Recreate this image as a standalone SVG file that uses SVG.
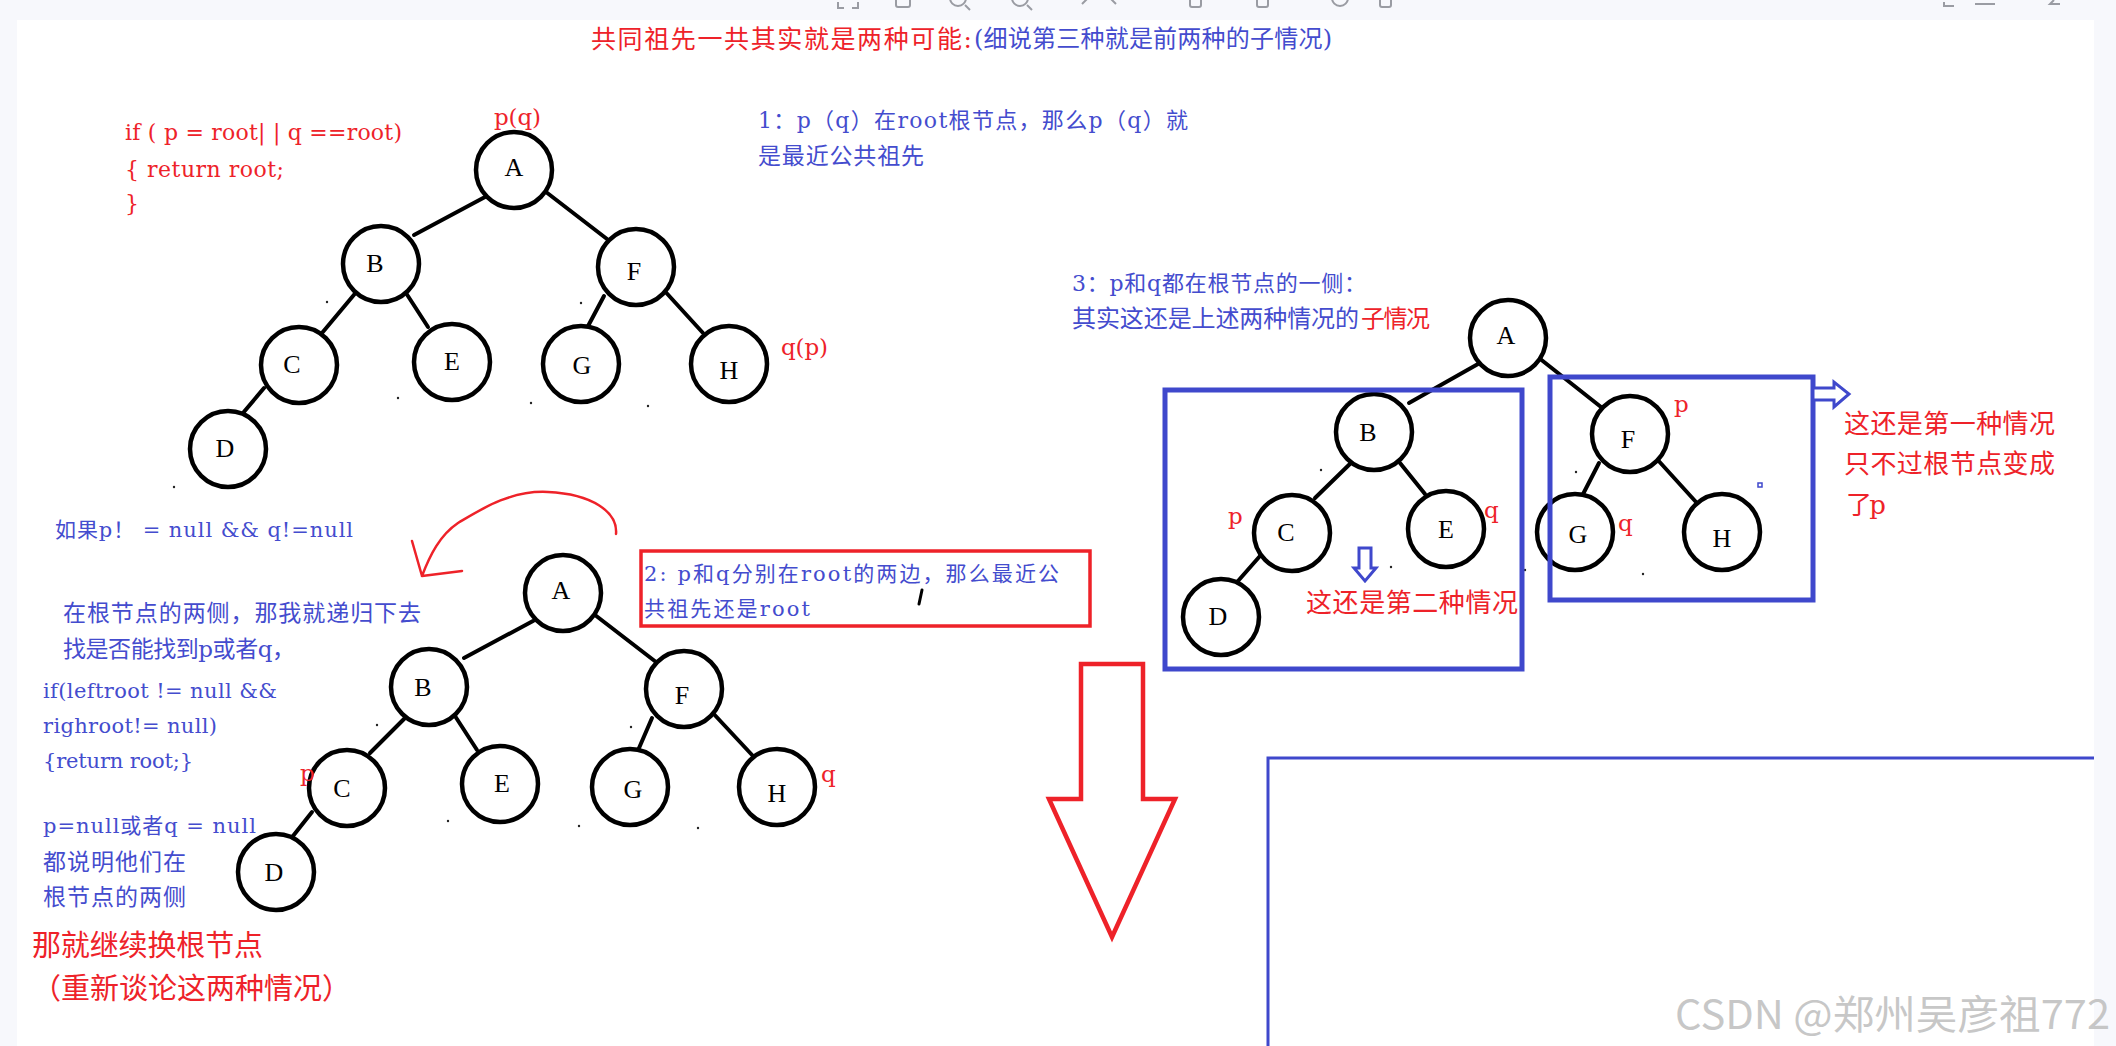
<svg xmlns="http://www.w3.org/2000/svg" width="2116" height="1046" viewBox="0 0 2116 1046">
<defs>
<style>
.node{fill:#fff;stroke:#000;stroke-width:4.5}
.lbl{font-family:'Liberation Serif','Noto Sans CJK SC',serif;font-size:26px;fill:#000;text-anchor:middle;dominant-baseline:central}
.edge{stroke:#000;stroke-width:4;stroke-linecap:round;fill:none}
.t{font-family:'DejaVu Serif','Noto Sans CJK SC',serif;dominant-baseline:central}
.red{fill:#ee2229}
.blue{fill:#444cce}
.bbox{fill:none;stroke:#3f48cc;stroke-width:5}
.dot{fill:#222}
</style>
</defs>
<rect x="0" y="0" width="2116" height="1046" fill="#f7f8fc"/>
<rect x="17" y="20" width="2077" height="1026" fill="#ffffff"/>
<!-- toolbar remnants -->
<g fill="none" stroke="#9a9ca3" stroke-width="2">
<path d="M838,2 v6 h6 M858,2 v6 h-6"/>
<rect x="896" y="-4" width="14" height="11" rx="2"/>
<circle cx="958" cy="-2" r="8"/>
<path d="M965,5 l5,5"/>
<circle cx="1020" cy="-2" r="8"/>
<path d="M1027,5 l5,5"/>
<path d="M1088,-2 l-6,6 M1110,-2 l6,6"/>
<rect x="1190" y="-4" width="11" height="11" rx="2"/>
<rect x="1257" y="-4" width="11" height="11" rx="2"/>
<path d="M1332,-2 a8,8 0 0 0 16,0"/>
<rect x="1380" y="-4" width="11" height="11" rx="2"/>
<path d="M1944,2 v4 h10 M1975,4 h20 M2060,4 h-10 l4,-4"/>
</g>

<!-- connectors -->
<g id="connectors">
<!-- tree 1 -->
<line class="edge" x1="485" y1="197" x2="414" y2="235"/>
<line class="edge" x1="546" y1="192" x2="607" y2="239"/>
<line class="edge" x1="358" y1="290" x2="322" y2="333"/>
<line class="edge" x1="406" y1="293" x2="428" y2="327"/>
<line class="edge" x1="604" y1="296" x2="587" y2="328"/>
<line class="edge" x1="661" y1="287" x2="703" y2="333"/>
<line class="edge" x1="264" y1="388" x2="243" y2="413"/>
<!-- tree 2 -->
<line class="edge" x1="533" y1="621" x2="464" y2="658"/>
<line class="edge" x1="595" y1="615" x2="656" y2="662"/>
<line class="edge" x1="409" y1="714" x2="370" y2="753"/>
<line class="edge" x1="455" y1="716" x2="477" y2="750"/>
<line class="edge" x1="652" y1="718" x2="636" y2="755"/>
<line class="edge" x1="711" y1="711" x2="753" y2="756"/>
<line class="edge" x1="312" y1="812" x2="293" y2="836"/>
<line class="edge" x1="302" y1="876" x2="314" y2="876" style="stroke-width:2"/>
<!-- tree 3 -->
<line class="edge" x1="1478" y1="364" x2="1409" y2="403"/>
<line class="edge" x1="1539" y1="358" x2="1601" y2="407"/>
<line class="edge" x1="1354" y1="460" x2="1315" y2="498"/>
<line class="edge" x1="1400" y1="463" x2="1425" y2="494"/>
<line class="edge" x1="1599" y1="463" x2="1580" y2="500"/>
<line class="edge" x1="1656" y1="458" x2="1696" y2="502"/>
<line class="edge" x1="1260" y1="556" x2="1238" y2="581"/>
</g>

<!-- stray dots -->
<g id="dots">
<circle class="dot" cx="327" cy="302" r="1.2"/>
<circle class="dot" cx="398" cy="398" r="1.2"/>
<circle class="dot" cx="531" cy="403" r="1.2"/>
<circle class="dot" cx="648" cy="406" r="1.2"/>
<circle class="dot" cx="581" cy="303" r="1.2"/>
<circle class="dot" cx="174" cy="487" r="1.2"/>
<circle class="dot" cx="377" cy="725" r="1.2"/>
<circle class="dot" cx="448" cy="821" r="1.2"/>
<circle class="dot" cx="579" cy="826" r="1.2"/>
<circle class="dot" cx="698" cy="828" r="1.2"/>
<circle class="dot" cx="631" cy="727" r="1.2"/>
<circle class="dot" cx="1321" cy="470" r="1.2"/>
<circle class="dot" cx="1576" cy="472" r="1.2"/>
<circle class="dot" cx="1391" cy="567" r="1.2"/>
<circle class="dot" cx="1525" cy="570" r="1.2"/>
<circle class="dot" cx="1643" cy="574" r="1.2"/>
</g>

<!-- tree 1 nodes -->
<g id="t1-A"><circle class="node" cx="514" cy="170" r="38"/><text class="lbl" x="514" y="167">A</text></g>
<g id="t1-B"><circle class="node" cx="381" cy="264" r="38"/><text class="lbl" x="375" y="263">B</text></g>
<g id="t1-F"><circle class="node" cx="636" cy="267" r="38"/><text class="lbl" x="634" y="271">F</text></g>
<g id="t1-C"><circle class="node" cx="299" cy="365" r="38"/><text class="lbl" x="292" y="364">C</text></g>
<g id="t1-E"><circle class="node" cx="452" cy="362" r="38"/><text class="lbl" x="452" y="361">E</text></g>
<g id="t1-G"><circle class="node" cx="581" cy="364" r="38"/><text class="lbl" x="582" y="365">G</text></g>
<g id="t1-H"><circle class="node" cx="729" cy="364" r="38"/><text class="lbl" x="729" y="370">H</text></g>
<g id="t1-D"><circle class="node" cx="228" cy="449" r="38"/><text class="lbl" x="225" y="448">D</text></g>

<!-- tree 2 nodes -->
<g id="t2-A"><circle class="node" cx="563" cy="593" r="38"/><text class="lbl" x="561" y="590">A</text></g>
<g id="t2-B"><circle class="node" cx="429" cy="687" r="38"/><text class="lbl" x="423" y="687">B</text></g>
<g id="t2-F"><circle class="node" cx="684" cy="689" r="38"/><text class="lbl" x="682" y="695">F</text></g>
<g id="t2-C"><circle class="node" cx="347" cy="788" r="38"/><text class="lbl" x="342" y="788">C</text></g>
<g id="t2-E"><circle class="node" cx="500" cy="784" r="38"/><text class="lbl" x="502" y="783">E</text></g>
<g id="t2-G"><circle class="node" cx="630" cy="787" r="38"/><text class="lbl" x="633" y="789">G</text></g>
<g id="t2-H"><circle class="node" cx="777" cy="787" r="38"/><text class="lbl" x="777" y="793">H</text></g>
<g id="t2-D"><circle class="node" cx="276" cy="872" r="38"/><text class="lbl" x="274" y="872">D</text></g>

<!-- tree 3 nodes -->
<g id="t3-A"><circle class="node" cx="1508" cy="338" r="38"/><text class="lbl" x="1506" y="335">A</text></g>
<g id="t3-B"><circle class="node" cx="1374" cy="432" r="38"/><text class="lbl" x="1368" y="432">B</text></g>
<g id="t3-F"><circle class="node" cx="1630" cy="434" r="38"/><text class="lbl" x="1628" y="439">F</text></g>
<g id="t3-C"><circle class="node" cx="1292" cy="533" r="38"/><text class="lbl" x="1286" y="532">C</text></g>
<g id="t3-E"><circle class="node" cx="1446" cy="529" r="38"/><text class="lbl" x="1446" y="529">E</text></g>
<g id="t3-G"><circle class="node" cx="1575" cy="532" r="38"/><text class="lbl" x="1578" y="534">G</text></g>
<g id="t3-H"><circle class="node" cx="1722" cy="532" r="38"/><text class="lbl" x="1722" y="538">H</text></g>
<g id="t3-D"><circle class="node" cx="1221" cy="617" r="38"/><text class="lbl" x="1218" y="616">D</text></g>

<!-- boxes and arrows -->
<g id="boxes">
<rect x="641" y="551" width="449" height="75" fill="none" stroke="#ee2229" stroke-width="3.5"/>
<rect class="bbox" x="1165" y="390" width="357" height="279"/>
<rect class="bbox" x="1550" y="377" width="263" height="223"/>
<polygon points="1813,388 1834,388 1834,382 1849,394 1834,407 1834,400 1813,400" fill="#fff" stroke="#3f48cc" stroke-width="3"/>
<polygon points="1359,548 1371,548 1371,568 1376,568 1365,581 1354,568 1359,568" fill="#fff" stroke="#3f48cc" stroke-width="3"/>
<rect x="1758" y="483" width="4" height="4" fill="none" stroke="#3f48cc" stroke-width="1.5"/>
<polygon points="1081,664 1143,664 1143,799 1175,799 1112,937 1049,799 1081,799" fill="none" stroke="#ee2229" stroke-width="4.5"/>
<path d="M1268,1046 V758 H2094" fill="none" stroke="#3f48cc" stroke-width="3"/>
<path d="M616,534 C618,512 592,494 548,492 C510,490 480,510 458,523 C440,535 430,555 422,576 M412,541 L422,576 L462,571" fill="none" stroke="#ee2229" stroke-width="2.5" stroke-linecap="round" stroke-linejoin="round"/>
<path d="M922,590 L919,604" stroke="#000" stroke-width="3" stroke-linecap="round"/>
</g>

<!-- texts -->
<g id="texts">
<text class="t red" x="591" y="39" font-size="25" textLength="381">共同祖先一共其实就是两种可能:</text>
<text class="t blue" x="974" y="39" font-size="24" textLength="358">(细说第三种就是前两种的子情况)</text>

<text class="t red" x="494" y="117" font-size="23" textLength="47">p(q)</text>
<text class="t red" x="781" y="347" font-size="23" textLength="47">q(p)</text>

<text class="t red" x="125" y="132" font-size="22" textLength="277">if ( p = root| | q ==root)</text>
<text class="t red" x="125" y="169" font-size="22" textLength="159">{  return root;</text>
<text class="t red" x="125" y="203" font-size="22">}</text>

<text class="t blue" x="758" y="120" font-size="22" textLength="430">1：p（q）在root根节点，那么p（q）就</text>
<text class="t blue" x="758" y="156" font-size="23" textLength="166">是最近公共祖先</text>

<text class="t blue" x="1072" y="283" font-size="22" textLength="294">3：p和q都在根节点的一侧：</text>
<text class="t blue" x="1072" y="319" font-size="24" textLength="287">其实这还是上述两种情况的</text>
<text class="t red" x="1361" y="319" font-size="24" textLength="69">子情况</text>

<text class="t red" x="1674" y="404" font-size="23">p</text>
<text class="t red" x="1228" y="516" font-size="23">p</text>
<text class="t red" x="1484" y="510" font-size="23">q</text>
<text class="t red" x="1618" y="523" font-size="23">q</text>

<text class="t red" x="1844" y="424" font-size="26" textLength="211">这还是第一种情况</text>
<text class="t red" x="1844" y="464" font-size="26" textLength="211">只不过根节点变成</text>
<text class="t red" x="1846" y="505" font-size="26" textLength="40">了p</text>
<text class="t red" x="1306" y="603" font-size="26" textLength="212">这还是第二种情况</text>

<text class="t blue" x="55" y="530" font-size="21" textLength="298">如果p！ = null &amp;&amp; q!=null</text>
<text class="t blue" x="644" y="574" font-size="21" textLength="415">2: p和q分别在root的两边，那么最近公</text>
<text class="t blue" x="644" y="609" font-size="21" textLength="166">共祖先还是root</text>

<text class="t blue" x="63" y="613" font-size="23" textLength="358">在根节点的两侧，那我就递归下去</text>
<text class="t blue" x="63" y="649" font-size="23" textLength="232">找是否能找到p或者q，</text>
<text class="t blue" x="43" y="691" font-size="21" textLength="234">if(leftroot != null &amp;&amp;</text>
<text class="t blue" x="43" y="726" font-size="21" textLength="174">righroot!= null)</text>
<text class="t blue" x="43" y="761" font-size="21" textLength="150">{return root;}</text>
<text class="t red" x="300" y="773" font-size="23">p</text>
<text class="t red" x="821" y="774" font-size="23">q</text>
<text class="t blue" x="43" y="826" font-size="21" textLength="213">p=null或者q = null</text>
<text class="t blue" x="43" y="862" font-size="23" textLength="143">都说明他们在</text>
<text class="t blue" x="43" y="897" font-size="23" textLength="143">根节点的两侧</text>

<text class="t red" x="32" y="946" font-size="29" textLength="231">那就继续换根节点</text>
<text class="t red" x="32" y="989" font-size="29" textLength="319">（重新谈论这两种情况）</text>

<text x="1675" y="1012" font-family="'Noto Sans CJK SC','Liberation Sans',sans-serif" font-size="40" fill="#bdbdbd" fill-opacity="0.85" dominant-baseline="central" textLength="435" lengthAdjust="spacingAndGlyphs">CSDN @郑州吴彦祖772</text>
</g>
</svg>
